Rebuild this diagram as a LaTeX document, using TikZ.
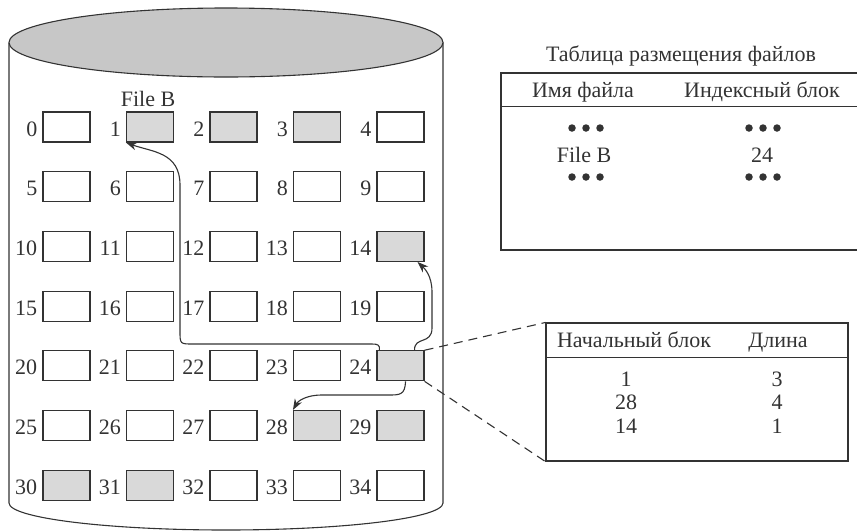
\documentclass[tikz,border=0pt]{standalone}
\usepackage{fontspec}
\setmainfont{Liberation Serif}
\usetikzlibrary{arrows.meta}
\definecolor{cylgray}{gray}{0.78}
\definecolor{boxgray}{gray}{0.85}
\definecolor{ink}{gray}{0.2}
\begin{document}
\begin{tikzpicture}[x=1pt,y=-1pt,
  every node/.style={font=\fontsize{22}{24}\selectfont, text=ink},
  ln/.style={draw=ink, line width=1.1pt},
  blk/.style={ln, minimum width=47pt, minimum height=30pt, inner sep=0pt, fill=white},
  gblk/.style={blk, fill=boxgray},
  lbl/.style={anchor=base east, inner sep=0pt},
  txt/.style={anchor=base, inner sep=0pt},
  arr/.style={ln, -{Stealth[length=11pt,width=8pt]}},
  dot/.style={circle, fill=ink, inner sep=0pt, minimum size=7.5pt},
  frame/.style={ln, inner sep=0pt}
]
\useasboundingbox (0,0) rectangle (857,531);

% cylinder
\draw[ln] (9,42.5) -- (9,503) arc[start angle=180, end angle=0, x radius=217, y radius=27] -- (443,42.5);
\filldraw[ln, fill=cylgray] (226,42.5) ellipse[x radius=217, y radius=34.5];

% blocks
\foreach \i/\s in {0/blk,1/gblk,2/gblk,3/gblk,4/blk,
                   5/blk,6/blk,7/blk,8/blk,9/blk,
                   10/blk,11/blk,12/blk,13/blk,14/gblk,
                   15/blk,16/blk,17/blk,18/blk,19/blk,
                   20/blk,21/blk,22/blk,23/blk,24/gblk,
                   25/blk,26/blk,27/blk,28/gblk,29/gblk,
                   30/gblk,31/gblk,32/blk,33/blk,34/blk} {
  \pgfmathtruncatemacro\r{\i/5}
  \pgfmathtruncatemacro\c{mod(\i,5)}
  \node[\s] (b\i) at ({66.5+83.5*\c},{127+59.7*\r}) {};
  \node[lbl] (l\i) at ([xshift=-5pt,yshift=-9pt]b\i.west) {\i};
}
\node[txt] (fileb) at (148,106) {File B};

% arrows
\draw[arr] ([xshift=3pt]b24.north west) .. controls (380,345) and (378,344) .. (372,344)
  -- (193,344) .. controls (180,344) and (180,344) .. (180,331)
  -- (180,185) .. controls (180,152) and (152,152) .. (b1.south west);
\draw[arr] ([xshift=-10pt]b24.north east) .. controls (414,336) and (432,345) .. (432,328)
  -- (432,292) .. controls (432,275) and (424,268) .. ([xshift=-7pt]b14.south east);
\draw[arr] ([xshift=-19pt]b24.south east) .. controls (405,395) and (400,395) .. (388,395)
  -- (322,395) .. controls (306,395) and (298,401) .. (b28.north west);

% file allocation table
\node[txt] (title) at (681,61) {Таблица размещения файлов};
\node[frame, minimum width=370pt, minimum height=177pt, draw] (fat) at (686,161.5) {};
\draw[ln] ([yshift=-34pt]fat.north west) coordinate (hl) -- ([yshift=-34pt]fat.north east) coordinate (hr);
\node[txt] (h1) at (583,97) {Имя файла};
\node[txt] (h2) at (762,97) {Индексный блок};
\foreach \x/\n in {586/a,763/b} {
  \foreach \k in {-1,0,1} {
    \node[dot] (d1\n\k) at ({\x+14*\k},128) {};
    \node[dot] (d2\n\k) at ({\x+14*\k},177) {};
  }
}
\node[txt] (fbname) at (584,162.5) {File B};
\node[txt] (fbidx) at (762,162.5) {24};

% index block table
\node[frame, minimum width=302pt, minimum height=138pt, draw] (tbl) at (697,392) {};
\draw[ln] ([yshift=-35pt]tbl.north west) -- ([yshift=-35pt]tbl.north east);
\node[txt] (t1) at (634,347) {Начальный блок};
\node[txt] (t2) at (778,347) {Длина};
\node[txt] (r1a) at (626,386) {1};
\node[txt] (r1b) at (777,386) {3};
\node[txt] (r2a) at (626,409.5) {28};
\node[txt] (r2b) at (777,409.5) {4};
\node[txt] (r3a) at (626,433) {14};
\node[txt] (r3b) at (777,433) {1};

% dashed links
\draw[ln, dash pattern=on 9pt off 6pt] (b24.north east) -- (tbl.north west);
\draw[ln, dash pattern=on 9pt off 6pt] (b24.south east) -- (tbl.south west);
\end{tikzpicture}
\end{document}
